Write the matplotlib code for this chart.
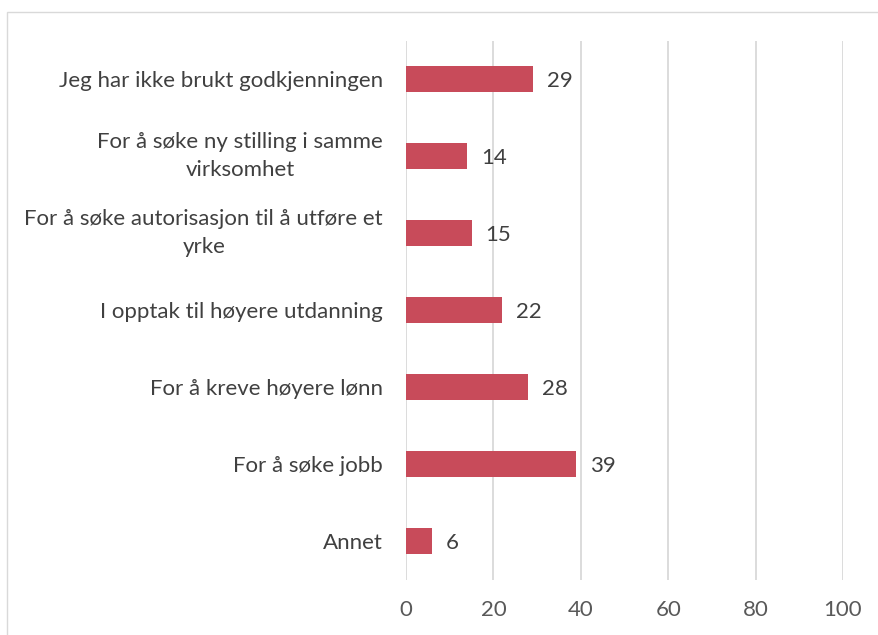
import matplotlib
matplotlib.use("Agg")
import matplotlib.pyplot as plt
from matplotlib.patches import Rectangle

categories = [
    "Jeg har ikke brukt godkjenningen",
    "For å søke ny stilling i samme\nvirksomhet",
    "For å søke autorisasjon til å utføre et\nyrke",
    "I opptak til høyere utdanning",
    "For å kreve høyere lønn",
    "For å søke jobb",
    "Annet",
]
values = [29, 14, 15, 22, 28, 39, 6]
xticks = [0, 20, 40, 60, 80, 100]

plt.rcParams['font.family'] = ['Lato', 'DejaVu Sans']
fs = 16

fig = plt.figure(figsize=(8.79, 6.35), dpi=100)
ax = fig.add_axes([406 / 879, 1 - 579.5 / 635, (843 - 406) / 879, 539 / 635])

pos = list(range(len(categories)))[::-1]
ax.barh(pos, values, height=0.35, color="#C84B5A", zorder=3)
for p, v in zip(pos, values):
    ax.text(v + 3.2, p, str(v), va="center_baseline", ha="left", fontsize=fs, color="#404040")

ax.set_xlim(0, 100)
ax.set_ylim(-0.5, len(categories) - 0.5)
ax.set_xticks(xticks)
ax.set_yticks(pos)
ax.set_yticklabels(categories, multialignment="center", fontsize=fs, color="#404040",
                   linespacing=1.5)
for lbl in ax.get_yticklabels():
    # two-line labels look better with plain centering
    lbl.set_va("center" if "\n" in lbl.get_text() else "center_baseline")
ax.tick_params(axis="x", labelsize=fs, labelcolor="#595959", length=0, pad=15)
ax.tick_params(axis="y", length=0, pad=16.5)
ax.grid(axis="x", color="#D9D9D9", linewidth=1.3, zorder=0)
for s in ax.spines.values():
    s.set_visible(False)

fig.patches.append(Rectangle((7 / 879, -0.1), 1.2, 1 - 12 / 635 + 0.1, transform=fig.transFigure,
                             fill=False, edgecolor="#D9D9D9", linewidth=1))

fig.savefig("out.png", dpi=100)
